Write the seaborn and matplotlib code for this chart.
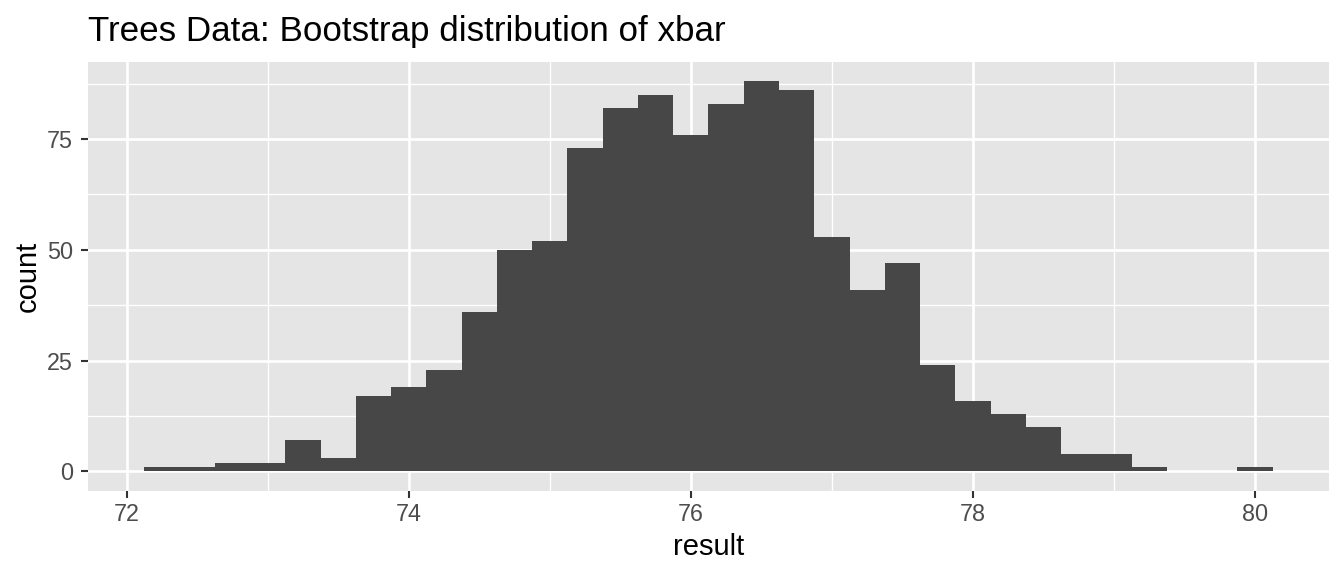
import numpy as np
import pandas as pd
import matplotlib
matplotlib.use("Agg")
import matplotlib.pyplot as plt
import seaborn as sns

# Bin left edges start at 72.125, width 0.25 (32 bins)
bin_start = 72.125
bin_width = 0.25
counts = [1, 1, 2, 2, 7, 3, 17, 19, 23, 36, 50, 52, 73, 82, 85, 76,
          83, 88, 86, 53, 41, 47, 24, 16, 13, 10, 4, 4, 1, 0, 0, 1]
x_ticks = [72, 74, 76, 78, 80]
y_ticks = [0, 25, 50, 75]

edges = bin_start + bin_width * np.arange(len(counts) + 1)
centers = (edges[:-1] + edges[1:]) / 2
df = pd.DataFrame({"result": centers, "count": counts})

sns.set_theme(style="darkgrid")
plt.rcParams["font.family"] = ["Liberation Sans", "DejaVu Sans"]

fig, ax = plt.subplots(figsize=(13.44, 5.76), dpi=100)
fig.subplots_adjust(left=0.0655, right=0.9888, top=0.8924, bottom=0.1476)

lo, hi = float(edges[0]), float(edges[-1])
sns.histplot(data=df, x="result", weights="count", binwidth=bin_width,
             binrange=(lo, hi), ax=ax,
             color="#474747", edgecolor="none", linewidth=0, alpha=1)

ax.set_facecolor("#E5E5E5")
fig.patch.set_facecolor("white")
for s in ax.spines.values():
    s.set_visible(False)

rng = hi - lo
ax.set_xlim(lo - 0.05 * rng, hi + 0.05 * rng)
ymax = max(counts)
ax.set_ylim(-0.05 * ymax, ymax * 1.05)

ax.set_xticks(x_ticks)
ax.set_yticks(y_ticks)
ax.set_xticks([73, 75, 77, 79], minor=True)
ax.set_yticks([12.5, 37.5, 62.5, 87.5], minor=True)
ax.grid(which="major", color="white", linewidth=1.9)
ax.grid(which="minor", color="white", linewidth=0.95)
ax.set_axisbelow(True)
ax.tick_params(which="major", length=5.2, width=1.5, color="#333333",
               labelsize=16.8, labelcolor="#4D4D4D", bottom=True, left=True)
ax.tick_params(axis="x", which="major", pad=3.5)
ax.tick_params(axis="y", which="major", pad=5.5)
ax.tick_params(which="minor", length=0)

ax.set_xlabel("result", fontsize=21, color="black", labelpad=5)
ax.set_ylabel("count", fontsize=21, color="black", labelpad=3.5)
ax.set_title("Trees Data: Bootstrap distribution of xbar", loc="left",
             fontsize=25.2, color="black", pad=15)

fig.savefig("out.png", dpi=100)
